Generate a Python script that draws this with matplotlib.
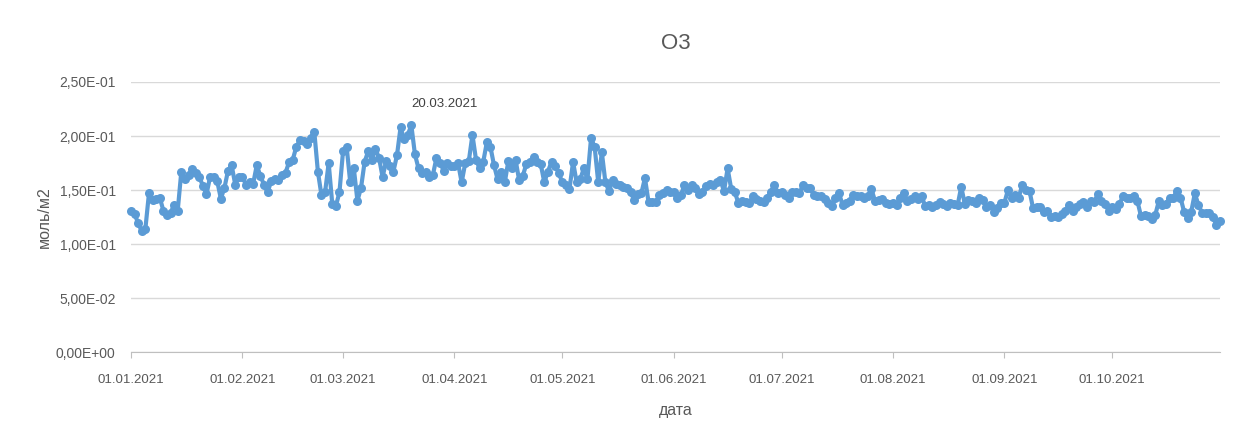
import numpy as np
import pandas as pd
import matplotlib
matplotlib.use("Agg")
import matplotlib.pyplot as plt
import matplotlib.dates as mdates
from matplotlib.ticker import FuncFormatter, MultipleLocator

plt.rcParams['font.family'] = ['Liberation Sans', 'DejaVu Sans']

# daily O3 column values, mol/m2
jan = [0.131, 0.128, 0.119, 0.112, 0.114, 0.147, 0.141, 0.142, 0.143, 0.131,
       0.127, 0.129, 0.136, 0.131, 0.167, 0.160, 0.164, 0.169, 0.166, 0.162,
       0.154, 0.146, 0.162, 0.162, 0.158, 0.142, 0.152, 0.168, 0.173, 0.155, 0.162]
feb = [0.162, 0.155, 0.157, 0.156, 0.173, 0.163, 0.155, 0.148, 0.158, 0.160,
       0.159, 0.164, 0.166, 0.176, 0.178, 0.190, 0.196, 0.195, 0.193, 0.198,
       0.204, 0.167, 0.145, 0.148, 0.175, 0.137, 0.135, 0.148]
mar = [0.186, 0.190, 0.157, 0.170, 0.140, 0.152, 0.176, 0.186, 0.178, 0.188,
       0.180, 0.162, 0.177, 0.172, 0.167, 0.182, 0.208, 0.197, 0.201, 0.210,
       0.183, 0.170, 0.166, 0.167, 0.162, 0.164, 0.180, 0.175, 0.168, 0.175, 0.172]
apr = [0.172, 0.175, 0.157, 0.175, 0.177, 0.201, 0.178, 0.170, 0.176, 0.194,
       0.190, 0.173, 0.160, 0.167, 0.157, 0.177, 0.170, 0.178, 0.159, 0.163,
       0.174, 0.176, 0.181, 0.176, 0.174, 0.157, 0.167, 0.176, 0.172, 0.166]
may = [0.157, 0.155, 0.151, 0.176, 0.157, 0.160, 0.170, 0.160, 0.198, 0.190,
       0.157, 0.185, 0.157, 0.149, 0.159, 0.156, 0.155, 0.153, 0.152, 0.148,
       0.141, 0.146, 0.147, 0.161, 0.139, 0.139, 0.139, 0.145, 0.147, 0.150, 0.148]
jun = [0.148, 0.143, 0.145, 0.155, 0.150, 0.155, 0.152, 0.146, 0.148, 0.154,
       0.156, 0.155, 0.157, 0.159, 0.149, 0.170, 0.151, 0.148, 0.138, 0.140,
       0.139, 0.138, 0.144, 0.142, 0.140, 0.139, 0.143, 0.148, 0.155, 0.147]
jul = [0.148, 0.145, 0.143, 0.148, 0.148, 0.147, 0.155, 0.152, 0.152, 0.145,
       0.144, 0.144, 0.142, 0.138, 0.135, 0.143, 0.147, 0.136, 0.138, 0.140,
       0.145, 0.144, 0.144, 0.143, 0.144, 0.151, 0.140, 0.141, 0.142, 0.138, 0.137]
aug = [0.138, 0.136, 0.143, 0.147, 0.140, 0.142, 0.144, 0.142, 0.144, 0.135,
       0.136, 0.134, 0.136, 0.139, 0.137, 0.135, 0.138, 0.137, 0.136, 0.153,
       0.137, 0.141, 0.140, 0.138, 0.143, 0.141, 0.134, 0.136, 0.130, 0.133, 0.138]
sep = [0.138, 0.150, 0.143, 0.145, 0.143, 0.155, 0.150, 0.149, 0.133, 0.134,
       0.134, 0.130, 0.131, 0.125, 0.126, 0.125, 0.128, 0.131, 0.136, 0.131,
       0.134, 0.137, 0.139, 0.134, 0.140, 0.139, 0.146, 0.140, 0.137, 0.131]
oct_ = [0.134, 0.132, 0.137, 0.144, 0.143, 0.143, 0.144, 0.140, 0.126, 0.127,
        0.126, 0.123, 0.127, 0.140, 0.136, 0.137, 0.143, 0.143, 0.149, 0.143,
        0.130, 0.124, 0.130, 0.147, 0.136, 0.129, 0.129, 0.129, 0.125, 0.118, 0.121]

values = jan + feb + mar + apr + may + jun + jul + aug + sep + oct_
dates = pd.date_range("2021-01-01", periods=len(values), freq="D")
label_date = pd.Timestamp("2021-03-20")

line_color = "#5B9BD5"
text_color = "#595959"

fig = plt.figure(figsize=(12.45, 4.41), dpi=100)
ax = fig.add_axes([131 / 1245, 1 - 352 / 441, (1220 - 131) / 1245, (352 - 82) / 441])

ax.plot(dates, values, color=line_color, lw=3, marker="o", ms=6.5,
        markeredgewidth=0, clip_on=False, zorder=3)

# data label on the March 20 point
i = list(dates).index(label_date)
ax.annotate(label_date.strftime("%d.%m.%Y"), (dates[i], values[i]),
            xytext=(0, 11), textcoords="offset points", ha="left", va="bottom",
            fontsize=9.5, color="#404040")

ax.set_ylim(0, 0.25)
ax.set_xlim(dates[0], dates[-1])
ax.yaxis.set_major_locator(MultipleLocator(0.05))
ax.yaxis.set_major_formatter(FuncFormatter(lambda v, p: f"{v:.2E}".replace(".", ",")))
ax.xaxis.set_major_locator(mdates.MonthLocator(bymonthday=1))
ax.xaxis.set_major_formatter(mdates.DateFormatter("%d.%m.%Y"))

ax.grid(axis="y", color="#d9d9d9", lw=1)
ax.set_axisbelow(True)
for s in ["top", "right", "left"]:
    ax.spines[s].set_visible(False)
ax.spines["bottom"].set_color("#bfbfbf")
ax.tick_params(axis="y", length=0, labelsize=10, labelcolor=text_color, pad=11)
ax.tick_params(axis="x", length=4, color="#bfbfbf", labelsize=9.5,
               labelcolor=text_color, pad=12)

ax.set_title("O3", fontsize=16, color=text_color, pad=24)
ax.set_xlabel("дата", fontsize=11.5, color=text_color, labelpad=12)
ax.set_ylabel("моль/м2", fontsize=11.5, color=text_color, labelpad=3)

plt.savefig("out.png", dpi=100)
